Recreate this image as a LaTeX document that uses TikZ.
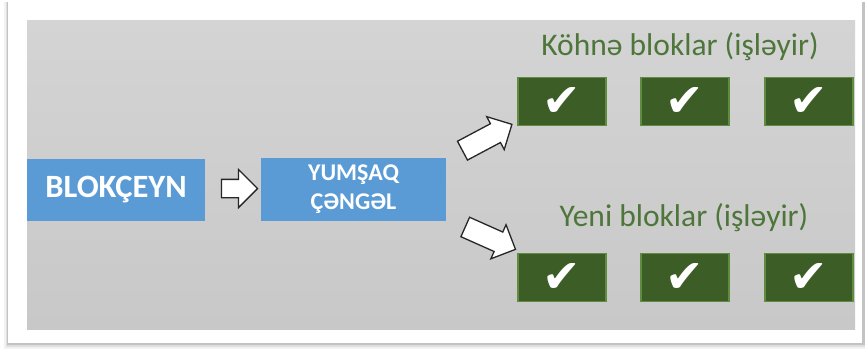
\documentclass[tikz,border=0pt]{standalone}
\usepackage{fontspec}
\setmainfont{Carlito}
\newfontfamily\symfont{DejaVu Sans}
\usetikzlibrary{shapes.arrows}

\definecolor{panelTop}{RGB}{212,212,212}
\definecolor{panelBot}{RGB}{200,200,200}
\definecolor{chainBlue}{RGB}{91,155,213}
\definecolor{okFill}{RGB}{60,94,38}
\definecolor{okEdge}{RGB}{96,140,66}
\definecolor{labelGreen}{RGB}{78,118,58}

\tikzset{
  bluebox/.style={fill=chainBlue, draw=none, text=white, font=\bfseries,
    inner sep=0pt, align=center},
  okbox/.style={fill=okFill, draw=okEdge, line width=1.2pt, text=white,
    minimum width=88pt, minimum height=48pt, inner sep=0pt,
    font=\symfont\fontsize{46}{46}\selectfont},
  rowlabel/.style={text=labelGreen, anchor=base, inner sep=0pt,
    font=\fontsize{31.5}{36}\selectfont},
  hollowarrow/.style={shape=single arrow, draw=black!85, fill=white,
    line width=1.3pt, line join=miter, inner xsep=0pt, minimum width=0pt,
    single arrow head indent=0pt}
}

\begin{document}
\begin{tikzpicture}[x=1pt,y=-1pt]
\useasboundingbox (0,0) rectangle (865,349);
\fill[white] (0,0) rectangle (865,349);

% card with soft shadow
\foreach \o/\a in {6/0.05,4/0.08,2/0.12}{
  \fill[black,opacity=\a] (8-\o*0.6,2) rectangle (865,343+\o);
}
\fill[white] (8,2) rectangle (862,343);

% grey panel
\shade[top color=panelTop, bottom color=panelBot] (27,20) rectangle (855,329);

% main flow
\node[bluebox, minimum width=178pt, minimum height=62pt,
      font=\bfseries\fontsize{32.5}{36}\selectfont] (chain) at (116,189.5) {BLOKÇEYN};
\node[bluebox, minimum width=185pt, minimum height=63pt,
      font=\bfseries\fontsize{24}{29}\selectfont] (fork) at (353.5,189.5) {YUMŞAQ\\ÇƏNGƏL};

\node[hollowarrow, minimum height=36pt, inner ysep=8.5pt,
      single arrow head extend=10pt] (a0) at (235,188.5) {};

% old chain
\node[rowlabel] (oldlbl) at (680,55) {Köhnə bloklar (işləyir)};
\node[okbox] (o1) at (562,101.5) {✔};
\node[okbox] (o2) at (685,101.5) {✔};
\node[okbox] (o3) at (809,101.5) {✔};

% new chain
\node[rowlabel] (newlbl) at (684,226) {Yeni bloklar (işləyir)};
\node[okbox] (n1) at (562,277.5) {✔};
\node[okbox] (n2) at (685,277.5) {✔};
\node[okbox] (n3) at (809,277.5) {✔};

% branching arrows
\node[hollowarrow, minimum height=56pt, inner ysep=10pt,
      single arrow head extend=8pt, rotate=28] (aup) at (482.5,140) {};
\node[hollowarrow, minimum height=55pt, inner ysep=10pt,
      single arrow head extend=8pt, rotate=-24] (adn) at (485.5,236) {};
\end{tikzpicture}
\end{document}
